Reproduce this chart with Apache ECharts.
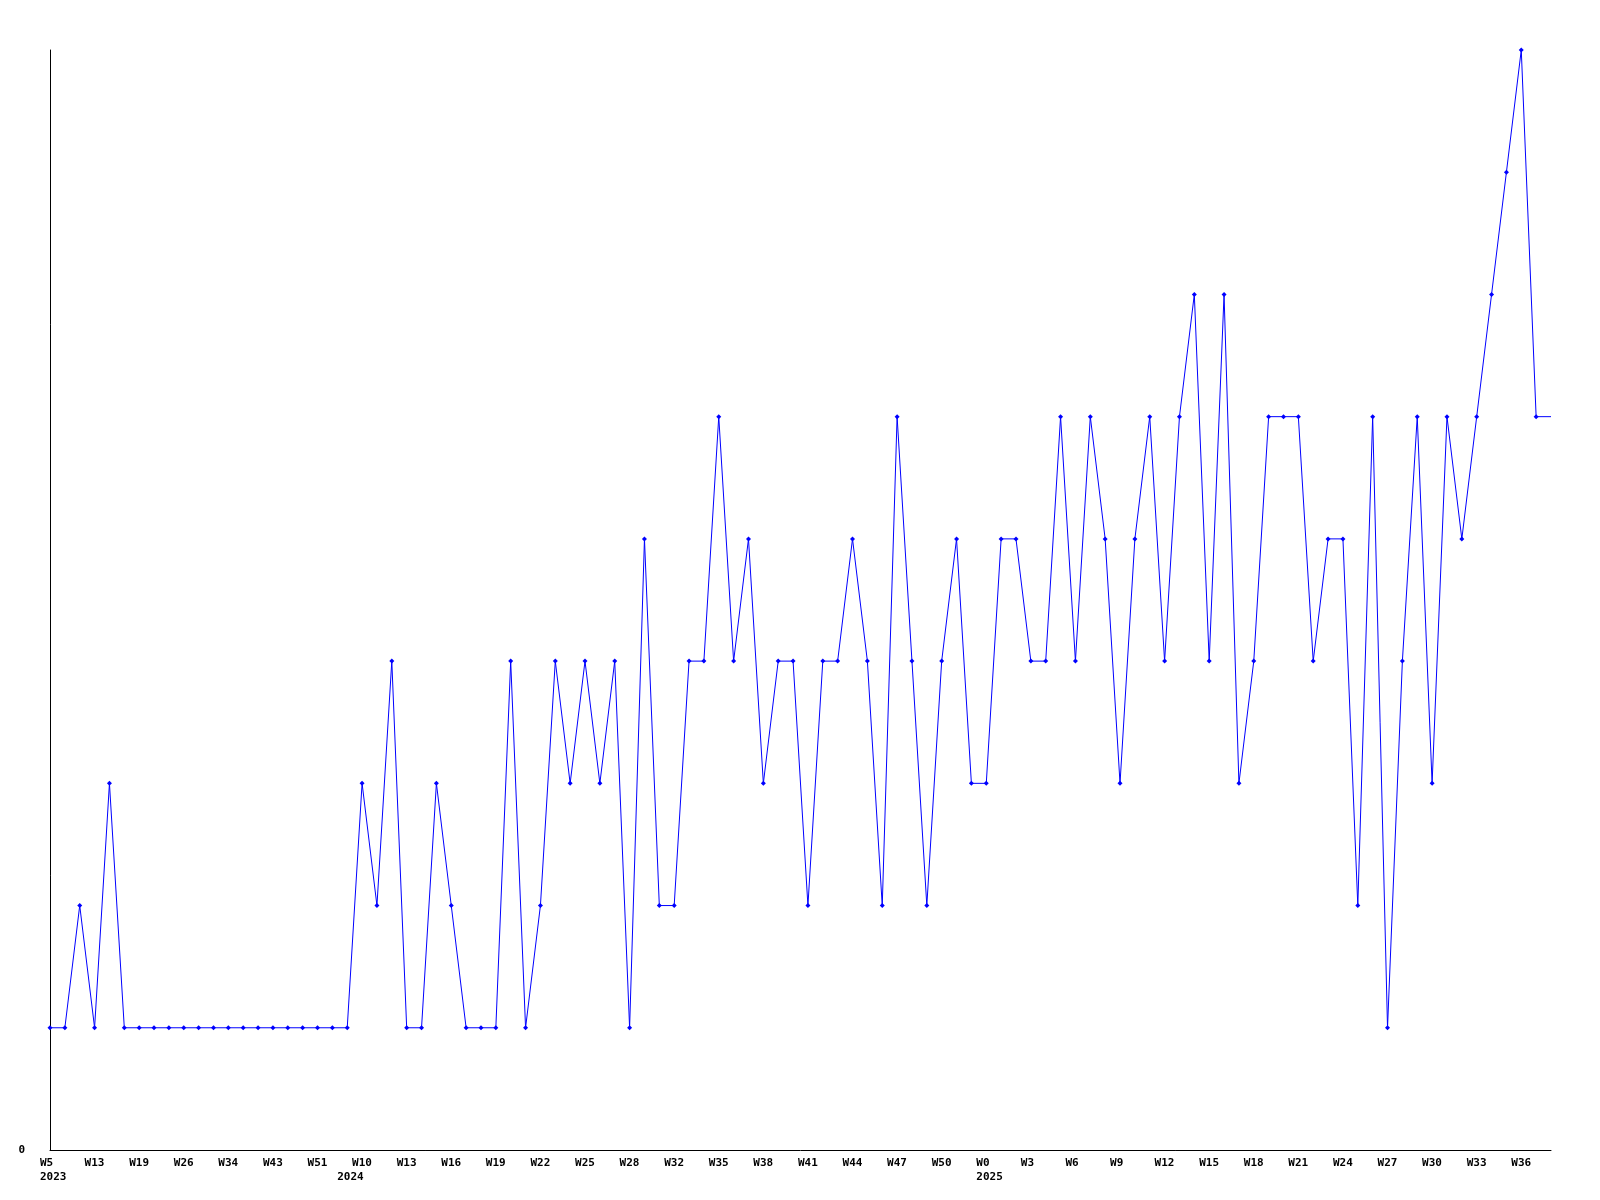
<!DOCTYPE html>
<html>
<head>
<meta charset="utf-8">
<script src="https://cdn.jsdelivr.net/npm/echarts@6/dist/echarts.min.js"></script>
<style>
html,body{margin:0;padding:0;background:#fff;}
#chart{width:1600px;height:1200px;}
</style>
</head>
<body>
<div id="chart"></div>
<script>
// Weekly counts, one per data point (index order)
const values = [
  1, 1, 2, 1, 3, 1, 1, 1, 1, 1, 1, 1, 1, 1, 1, 1, 1, 1, 1, 1,
  1, 3, 2, 4, 1, 1, 3, 2, 1, 1, 1, 4, 1, 2, 4, 3, 4, 3, 4, 1,
  5, 2, 2, 4, 4, 6, 4, 5, 3, 4, 4, 2, 4, 4, 5, 4, 2, 6, 4, 2,
  4, 5, 3, 3, 5, 5, 4, 4, 6, 4, 6, 5, 3, 5, 6, 4, 6, 7, 4, 7,
  3, 4, 6, 6, 6, 4, 5, 5, 2, 6, 1, 4, 6, 3, 6, 5, 6, 7, 8, 9,
  6, 6
];
// Week tick labels, one every 3 points
const tickLabels = [
  'W5', 'W13', 'W19', 'W26', 'W34', 'W43', 'W51', 'W10', 'W13', 'W16',
  'W19', 'W22', 'W25', 'W28', 'W32', 'W35', 'W38', 'W41', 'W44', 'W47',
  'W50', 'W0', 'W3', 'W6', 'W9', 'W12', 'W15', 'W18', 'W21', 'W24',
  'W27', 'W30', 'W33', 'W36'
];
const labelStep = 3;
// Year labels at the first point of each year
const yearNames = ['2023', '2024', '2025'];
const yearStartIndex = [0, 20, 63];

const lastIdx = values.length - 1;
const seriesData = values.map((v, i) => {
  if (i === lastIdx) return { value: [i, v], symbol: 'none' };
  return [i, v];
});

const font = "'DejaVu Sans Mono', monospace";
const labelBase = {
  show: true,
  showMaxLabel: false,
  align: 'left',
  padding: [0, 0, 0, -10],
  lineHeight: 14,
  color: '#000',
  fontFamily: font,
  fontWeight: 'bold',
  fontSize: 11
};
const chart = echarts.init(document.getElementById('chart'), null, { renderer: 'canvas' });
chart.setOption({
  animation: false,
  backgroundColor: '#ffffff',
  grid: { left: 50, right: 49, top: 50, bottom: 50, containLabel: false },
  xAxis: [{
    type: 'value',
    position: 'bottom',
    min: 0,
    max: lastIdx,
    interval: labelStep,
    axisLine: { show: true, lineStyle: { color: '#000', width: 1 } },
    axisTick: { show: false },
    splitLine: { show: false },
    axisLabel: Object.assign({}, labelBase, {
      margin: 6,
      formatter: function (v) {
        const k = Math.round(v / labelStep);
        return tickLabels[k] !== undefined ? tickLabels[k] : '';
      }
    })
  }, {
    type: 'value',
    position: 'bottom',
    offset: 0,
    min: 0,
    max: lastIdx,
    interval: 1,
    axisLine: { show: false },
    axisTick: { show: false },
    splitLine: { show: false },
    axisLabel: Object.assign({}, labelBase, {
      margin: 20,
      formatter: function (v) {
        const k = yearStartIndex.indexOf(Math.round(v));
        return k >= 0 ? yearNames[k] : '';
      }
    })
  }],
  yAxis: {
    type: 'value',
    min: 0,
    max: 9,
    interval: 9,
    axisLine: { show: true, lineStyle: { color: '#000', width: 1 } },
    axisTick: { show: false },
    splitLine: { show: false },
    axisLabel: {
      show: true,
      margin: 25,
      color: '#000',
      fontFamily: font,
      fontWeight: 'bold',
      fontSize: 11,
      formatter: function (v) { return v === 0 ? '0' : ''; }
    }
  },
  series: [{
    type: 'line',
    xAxisIndex: 0,
    data: seriesData,
    symbol: 'diamond',
    symbolSize: 5,
    showAllSymbol: true,
    lineStyle: { color: '#0000ff', width: 1 },
    itemStyle: { color: '#0000ff' },
    emphasis: { disabled: true }
  }]
});
</script>
</body>
</html>
